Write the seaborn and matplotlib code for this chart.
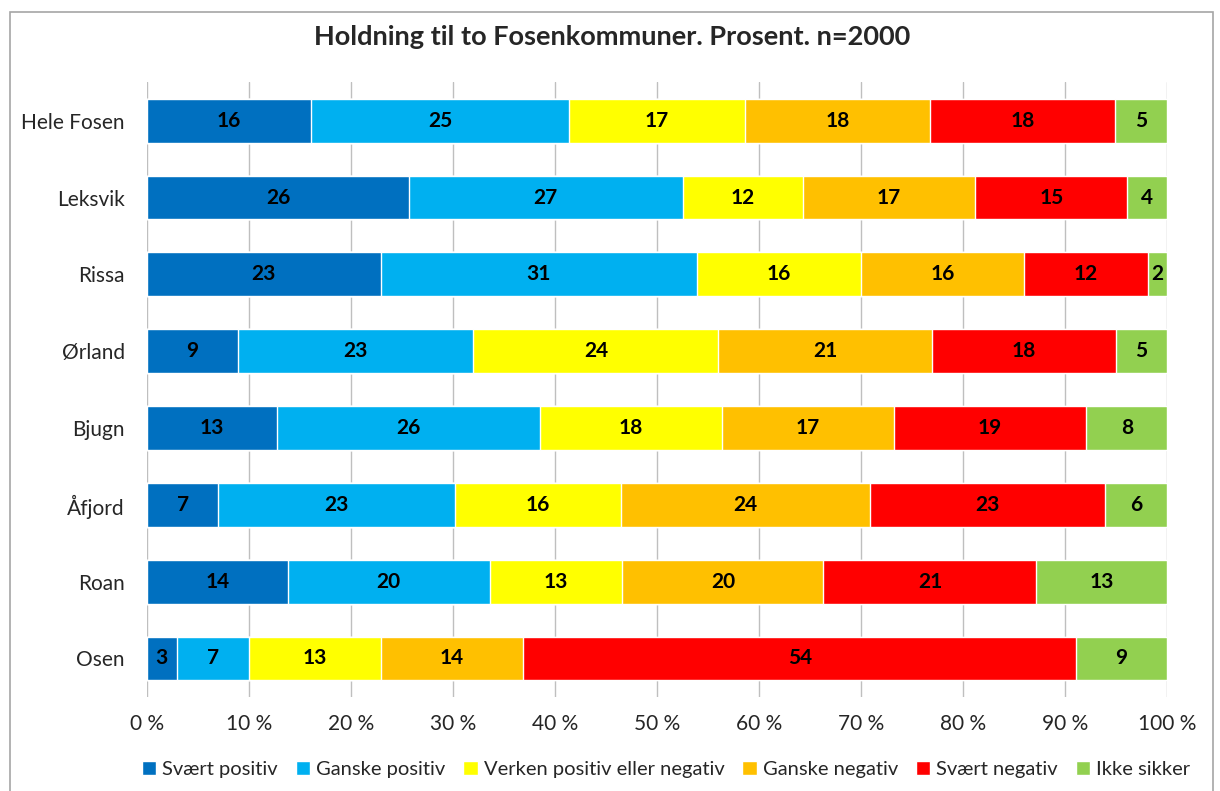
import matplotlib
matplotlib.use("Agg")
import matplotlib.pyplot as plt
import seaborn as sns
import numpy as np
import pandas as pd
from matplotlib.patches import Rectangle, Patch

# Data (percent)
kommuner = ['Hele Fosen', 'Leksvik', 'Rissa', 'Ørland', 'Bjugn', 'Åfjord', 'Roan', 'Osen']
svaert_positiv = [16.1, 25.7, 22.9, 8.9, 12.7, 7.0, 13.8, 2.9]
ganske_positiv = [25.3, 26.8, 31.0, 23.1, 25.8, 23.2, 19.8, 7.1]
verken = [17.2, 11.8, 16.1, 24.0, 17.9, 16.2, 13.0, 12.9]
ganske_negativ = [18.2, 16.9, 16.0, 21.0, 16.8, 24.4, 19.7, 14.0]
svaert_negativ = [18.1, 14.9, 12.1, 18.0, 18.9, 23.0, 20.9, 54.2]
ikke_sikker = [5.1, 3.9, 1.9, 5.0, 7.9, 6.1, 12.8, 8.9]

serier = ['Svært positiv', 'Ganske positiv', 'Verken positiv eller negativ',
          'Ganske negativ', 'Svært negativ', 'Ikke sikker']
farger = ['#0070C0', '#00B0F0', '#FFFF00', '#FFC000', '#FF0000', '#92D050']

df = pd.DataFrame({
    serier[0]: svaert_positiv,
    serier[1]: ganske_positiv,
    serier[2]: verken,
    serier[3]: ganske_negativ,
    serier[4]: svaert_negativ,
    serier[5]: ikke_sikker,
}, index=kommuner)
df = df.div(df.sum(axis=1), axis=0) * 100
cum = df.cumsum(axis=1)

sns.set_style('white')
plt.rcParams['font.family'] = ['Lato', 'DejaVu Sans']

fig = plt.figure(figsize=(12.2, 7.91), dpi=100)
ax = fig.add_axes([0.1205, 0.119, 0.8361, 0.777])

# stacked bars: draw cumulative totals from the back to the front
for s, c in reversed(list(zip(serier, farger))):
    sns.barplot(x=cum[s].values, y=kommuner, color=c, orient='h',
                width=0.57, ax=ax, saturation=1, zorder=3)

for i, k in enumerate(kommuner):
    for s in serier:
        v = df.loc[k, s]
        ax.text(cum.loc[k, s] - v / 2, i, f'{round(v):.0f}', ha='center', va='center',
                fontsize=15, fontweight='bold', color='black', zorder=5)

ax.set_xlim(0, 100)
ax.set_ylim(7.5, -0.5)
ax.set_xticks(np.arange(0, 101, 10))
ax.set_xticklabels([f'{t} %' for t in range(0, 101, 10)], fontsize=15)
ax.tick_params(axis='y', labelsize=15, length=0, pad=16)
ax.tick_params(axis='x', length=0, pad=12)
ax.grid(axis='x', color='#BFBFBF', linewidth=1, zorder=0)
for sp in ax.spines.values():
    sp.set_visible(False)
ax.set_xlabel('')
ax.set_ylabel('')

fig.suptitle('Holdning til to Fosenkommuner. Prosent. n=2000', fontsize=19.5,
             fontweight='bold', x=0.502, y=0.968)

handles = [Patch(facecolor=c, label=s) for s, c in zip(serier, farger)]
fig.legend(handles=handles, loc='center', bbox_to_anchor=(0.546, 0.027), ncol=6,
           frameon=False, fontsize=14.5, handlelength=0.7, handleheight=0.7,
           handletextpad=0.3, columnspacing=0.9)

fig.patches.append(Rectangle((0.008, -0.02), 0.986, 1.005, transform=fig.transFigure,
                             fill=False, edgecolor='#A6A6A6', linewidth=1.2))

fig.savefig('out.png', dpi=100)
